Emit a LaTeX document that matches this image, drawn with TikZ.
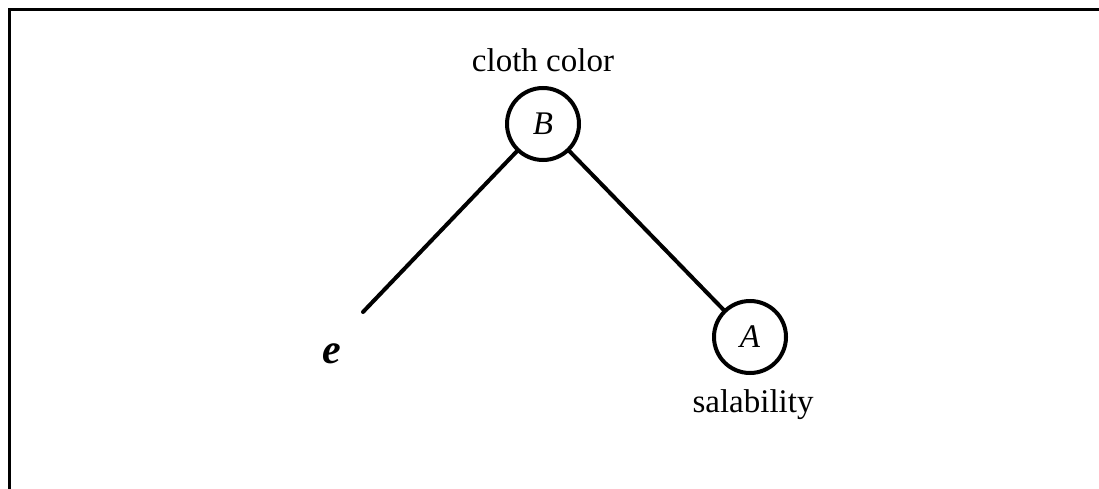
\documentclass[tikz,border=0pt]{standalone}
\usepackage{fontspec}
\setmainfont{Liberation Serif}
\begin{document}
\begin{tikzpicture}[x=1pt,y=-1pt,
  vertex/.style={circle,draw,line width=4pt,minimum size=72pt,inner sep=0pt,font=\fontsize{33}{40}\selectfont\itshape},
  lbl/.style={font=\fontsize{33}{40}\selectfont,anchor=base,inner sep=0pt},
  edge/.style={line width=4pt,line cap=round}]
\useasboundingbox (0,0) rectangle (1099,489);
\draw[line width=3pt] (9,489) -- (9,10) -- (1099,10);
\node[vertex] (B) at (543,124) {B};
\node[vertex] (A) at (750,337) {A};
\node[lbl] (bl) at (543,72) {cloth color};
\node[lbl] (al) at (753,412) {salability};
\coordinate (eend) at (363,312);
\node[font=\fontsize{42}{48}\selectfont\bfseries\itshape,anchor=base,inner sep=0pt] (e) at (332,363) {e};
\draw[edge] (B) -- (eend);
\draw[edge] (B) -- (A);
\end{tikzpicture}
\end{document}
